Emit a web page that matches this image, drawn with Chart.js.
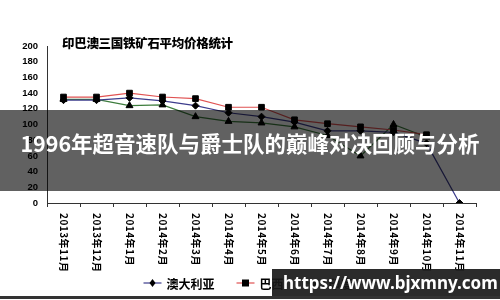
<!DOCTYPE html>
<html>
<head>
<meta charset="utf-8">
<script src="https://cdn.jsdelivr.net/npm/chart.js@4.4.1/dist/chart.umd.min.js"></script>
<style>
html, body { margin: 0; padding: 0; background: #fff; }
#wrap { position: relative; width: 500px; height: 300px; overflow: hidden; background: #fff; }
#chartTitle { position: absolute; left: 62px; top: 33px; font: 900 12.5px "Noto Sans CJK SC"; color: #000; letter-spacing: -0.3px; }
#band { position: absolute; left: 0; top: 110px; width: 500px; height: 81px; background: rgba(0,0,0,0.62); }
#band div { position: absolute; left: 0; right: 0; top: 17px; line-height: 30px; text-align: center; color: #fff; font: bold 21.5px "Noto Sans CJK SC"; }
#mark { position: absolute; left: 272px; top: 269px; width: 228px; height: 27px; background: rgba(25,25,25,0.92); color: #fff; font: bold 17px "Noto Sans"; line-height: 27px; padding-left: 11px; box-sizing: border-box; }
#bottomLine { position: absolute; left: 0; top: 296px; width: 500px; height: 3px; background: #333; }
</style>
</head>
<body>
<div id="wrap">
  <canvas id="myLineChart" width="500" height="300" style="width:500px;height:300px"></canvas>
  <div id="chartTitle">印巴澳三国铁矿石平均价格统计</div>
  <div id="band"><div>1996年超音速队与爵士队的巅峰对决回顾与分析</div></div>
  <div id="mark">https://www.bjxmny.com</div>
  <div id="bottomLine"></div>
</div>
<script>
const months = ['2013年11月', '2013年12月', '2014年1月', '2014年2月', '2014年3月', '2014年4月',
    '2014年5月', '2014年6月', '2014年7月', '2014年8月', '2014年9月', '2014年10月', '2014年11月'];
const seriesNames = ['澳大利亚', '巴西', '印度'];
const australia = [131, 131, 134, 130, 124, 115, 110, 103, 92, 92, 90, 76, 0];
const brazil = [135, 135, 140, 135, 133, 122, 122, 106, 101, 97, 93, 87, null];
const india = [132, 132, 124, 125, 110, 104, 102, 97, 86, 60, 100, 84, null];
const yTicks = [0, 20, 40, 60, 80, 100, 120, 140, 160, 180, 200];

const lineColors = ['#3c3c8c', '#e05252', '#3d7d3d'];
const markers = ['rectRot', 'rect', 'triangle'];

// rotated month labels (reading top to bottom) + legend with line and marker
const extras = {
    id: 'extras',
    afterDraw(chart) {
        const ctx = chart.ctx;
        const xs = chart.scales.x;
        ctx.save();
        ctx.fillStyle = '#000';
        ctx.font = 'bold 10px "Noto Sans CJK SC"';
        ctx.letterSpacing = '0.5px';
        ctx.textAlign = 'left';
        ctx.textBaseline = 'middle';
        months.forEach((m, i) => {
            const x = xs.getPixelForValue(i);
            ctx.save();
            ctx.translate(x, xs.top + 10);
            ctx.rotate(Math.PI / 2);
            ctx.fillText(m, 0, 0);
            ctx.restore();
        });
        ctx.restore();

        // legend
        ctx.save();
        ctx.font = 'bold 12px "Noto Sans CJK SC"';
        ctx.textBaseline = 'middle';
        const lineW = 18, gap = 5, spacing = 22;
        const widths = seriesNames.map(n => lineW + gap + ctx.measureText(n).width);
        const total = widths.reduce((a, b) => a + b, 0) + spacing * (widths.length - 1);
        let x = (chart.width - total) / 2 - 2;
        const y = 283;
        seriesNames.forEach((n, i) => {
            ctx.strokeStyle = lineColors[i];
            ctx.lineWidth = 1.2;
            ctx.beginPath();
            ctx.moveTo(x, y);
            ctx.lineTo(x + lineW, y);
            ctx.stroke();
            const cx = x + lineW / 2;
            ctx.fillStyle = '#000';
            ctx.beginPath();
            if (i === 0) {
                ctx.moveTo(cx, y - 4); ctx.lineTo(cx + 3, y); ctx.lineTo(cx, y + 4); ctx.lineTo(cx - 3, y);
            } else if (i === 1) {
                ctx.rect(cx - 3.5, y - 3.5, 7, 7);
            } else {
                ctx.moveTo(cx, y - 4); ctx.lineTo(cx + 4, y + 3); ctx.lineTo(cx - 4, y + 3);
            }
            ctx.closePath();
            ctx.fill();
            ctx.fillStyle = '#000';
            ctx.fillText(n, x + lineW + gap, y + 1);
            x += widths[i] + spacing;
        });
        ctx.restore();
    }
};

const ctx = document.getElementById('myLineChart').getContext('2d');

const myLineChart = new Chart(ctx, {
    type: 'line',
    data: {
        labels: months,
        datasets: [australia, brazil, india].map((d, i) => ({
            label: seriesNames[i],
            data: d,
            borderColor: lineColors[i],
            borderWidth: 1.2,
            pointStyle: markers[i],
            pointRadius: i === 0 ? 3.5 : 4,
            pointBackgroundColor: '#000',
            pointBorderColor: '#000',
            pointBorderWidth: 1,
            tension: 0,
            spanGaps: false
        }))
    },
    options: {
        responsive: false,
        maintainAspectRatio: false,
        animation: false,
        layout: { padding: { top: 46, right: 24, bottom: 27, left: 0 } },
        plugins: {
            legend: { display: false },
            title: { display: false },
            tooltip: { enabled: false }
        },
        scales: {
            x: {
                offset: true,
                grid: { display: true, offset: true, drawOnChartArea: false, drawTicks: true, tickLength: 4, color: '#333' },
                border: { display: true, color: '#333', width: 1 },
                ticks: { display: false },
                afterFit: (scale) => { scale.height = 70; }
            },
            y: {
                min: 0,
                max: 200,
                afterBuildTicks: (scale) => { scale.ticks = yTicks.map(v => ({ value: v })); },
                grid: { display: true, drawOnChartArea: false, drawTicks: false, color: '#333' },
                border: { display: true, color: '#333', width: 1 },
                ticks: {
                    color: '#000',
                    padding: 9,
                    font: { family: 'Liberation Sans', size: 9.5, weight: 'bold' }
                },
                afterFit: (scale) => { scale.width = 47; }
            }
        }
    },
    plugins: [extras]
});
</script>
</body>
</html>
